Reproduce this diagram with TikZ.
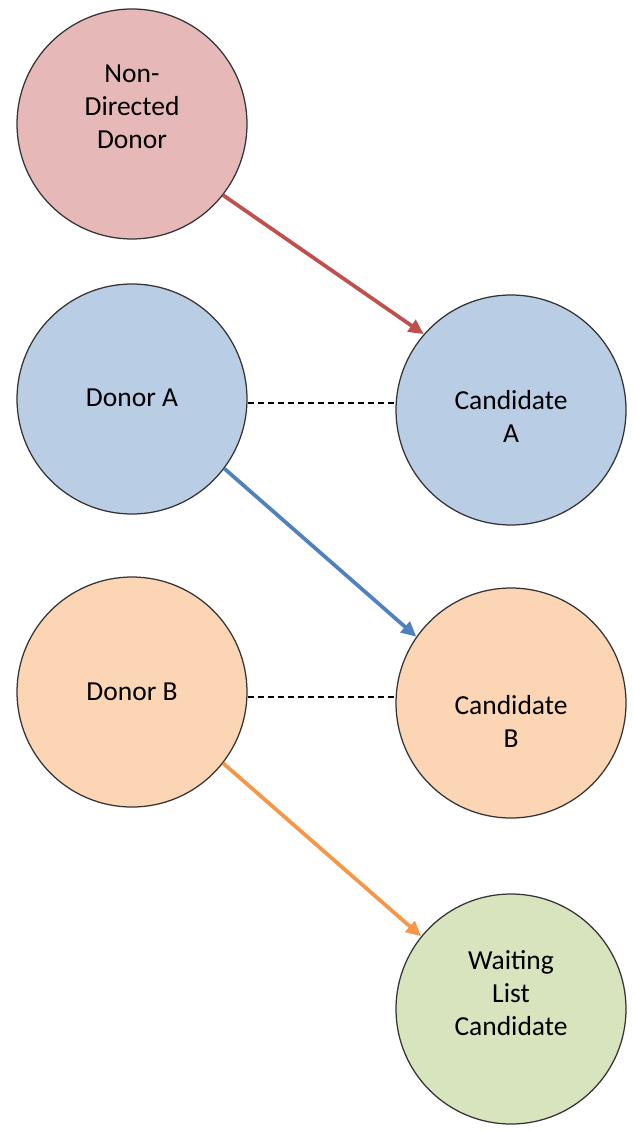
\documentclass[tikz,border=0pt]{standalone}
\usepackage{fontspec}
\setmainfont{Carlito}
\usepackage{tikz}
\usetikzlibrary{arrows.meta}

\definecolor{nddfill}{HTML}{E6B9B8}
\definecolor{nddline}{HTML}{C0504D}
\definecolor{afill}{HTML}{B9CDE5}
\definecolor{aline}{HTML}{4F81BD}
\definecolor{bfill}{HTML}{FCD5B5}
\definecolor{bline}{HTML}{F79646}
\definecolor{wfill}{HTML}{D7E4BD}

\begin{document}
\begin{tikzpicture}[x=0.4pt, y=-0.4pt,
  party/.style={circle, draw=black!80, line width=0.5pt, minimum size=92pt, inner sep=0pt},
  txt/.style={align=center, font=\fontsize{11pt}{13.2pt}\selectfont},
  gives/.style={line width=1.5pt, -{Triangle[length=6pt,width=5.6pt]}},
  pair/.style={line width=0.8pt, dash pattern=on 2.4pt off 1.6pt}]
\useasboundingbox (0,0) rectangle (634,1131);

\node (NDD) at (132,124) [party, fill=nddfill] {};
\node (DA) at (132,399) [party, fill=afill] {};
\node (CA) at (511,410) [party, fill=afill] {};
\node (DB) at (132,692) [party, fill=bfill] {};
\node (CB) at (511,703) [party, fill=bfill] {};
\node (WL) at (511,1009) [party, fill=wfill] {};

\node (NDDtext) at (132,107) [txt] {Non-\\Directed\\Donor};
\node (DAtext) at (132,398) [txt] {Donor A};
\node (CAtext) at (511,416) [txt] {Candidate\\A};
\node (DBtext) at (132,692) [txt] {Donor B};
\node (CBtext) at (511,721) [txt] {Candidate\\B};
\node (WLtext) at (511,993) [txt] {Waiting\\List\\Candidate};

\draw [gives, nddline] (NDD.-38) -- (CA.139);
\draw [gives, aline] (DA.-37) -- (CB.145);
\draw [gives, bline] (DB.-38) -- (WL.141);

\draw [pair] (DA.east |- 0,403) -- (CA.west |- 0,403);
\draw [pair] (DB.east |- 0,697) -- (CB.west |- 0,697);
\end{tikzpicture}
\end{document}
